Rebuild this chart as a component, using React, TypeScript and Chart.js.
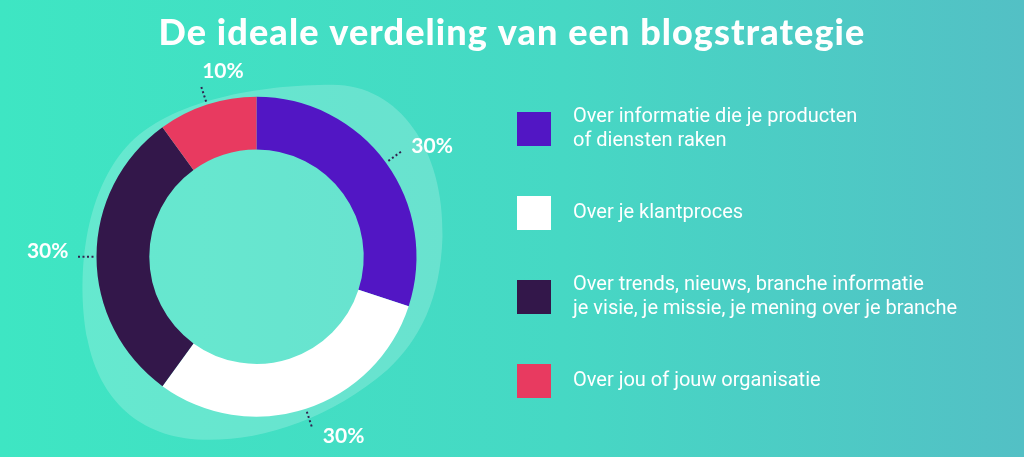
import { useEffect, useRef } from "react";
import { Chart, registerables } from "chart.js";

Chart.register(...registerables);

const titleText = "De ideale verdeling van een blogstrategie";
const categories: string[][] = [
  ["Over informatie die je producten", "of diensten raken"],
  ["Over je klantproces"],
  ["Over trends, nieuws, branche informatie", "je visie, je missie, je mening over je branche"],
  ["Over jou of jouw organisatie"],
];
const values = [30, 30, 30, 10];
const sliceColors = ["#5216C4", "#FFFFFF", "#33174A", "#E83A60"];
const valueLabels = ["30%", "30%", "30%", "10%"];

const decorPlugin = {
  id: "decor",
  beforeDatasetsDraw(chart: any) {
    const ctx = chart.ctx;
    const arc = chart.getDatasetMeta(0).data[0];
    const { x: cx, y: cy, outerRadius: R } = arc.getProps(["x", "y", "outerRadius"], true);
    const s = R / 160;
    const P = (dx: number, dy: number): [number, number] => [cx + dx * s, cy + dy * s];
    ctx.save();
    ctx.beginPath();
    const m = P(76, -172);
    ctx.moveTo(m[0], m[1]);
    const curves: number[][] = [
      [143, -172, 188, -107, 186, -20],
      [184, 43, 163, 83, 131, 113],
      [73, 163, 3, 185, -54, 183],
      [-117, 181, -157, 143, -169, 83],
      [-179, 33, -177, -57, -130, -110],
      [-87, -157, 3, -172, 76, -172],
    ];
    for (const c of curves) {
      const a = P(c[0], c[1]);
      const b = P(c[2], c[3]);
      const e = P(c[4], c[5]);
      ctx.bezierCurveTo(a[0], a[1], b[0], b[1], e[0], e[1]);
    }
    ctx.closePath();
    ctx.fillStyle = "rgba(255,255,255,0.2)";
    ctx.fill();
    ctx.restore();
  },
  afterDatasetsDraw(chart: any) {
    const ctx = chart.ctx;
    const meta = chart.getDatasetMeta(0);
    ctx.save();
    // leader lines and value labels
    meta.data.forEach((el: any, i: number) => {
      const p = el.getProps(["x", "y", "startAngle", "endAngle", "outerRadius"], true);
      const a = (p.startAngle + p.endAngle) / 2;
      const c = Math.cos(a);
      const sn = Math.sin(a);
      const r1 = p.outerRadius + 3;
      const r2 = p.outerRadius + 19;
      const sx = p.x + r1 * c, sy = p.y + r1 * sn;
      const ex = p.x + r2 * c, ey = p.y + r2 * sn;
      ctx.beginPath();
      ctx.setLineDash([2, 2.5]);
      ctx.lineWidth = 2;
      ctx.strokeStyle = "#33224F";
      ctx.moveTo(sx, sy);
      ctx.lineTo(ex, ey);
      ctx.stroke();
      ctx.setLineDash([]);
      ctx.fillStyle = "#FFFFFF";
      ctx.font = "bold 21px Lato";
      let tx = ex, ty = ey;
      if (Math.abs(c) > 0.5) {
        ctx.textBaseline = "alphabetic";
        if (c > 0) {
          ctx.textAlign = "left";
          tx = ex + 10;
          ty = ey + 2;
        } else {
          ctx.textAlign = "right";
          tx = ex - 9;
          ty = ey + 1;
        }
      } else {
        ctx.textAlign = "left";
        if (sn > 0) {
          ctx.textBaseline = "top";
          tx = ex + 11;
          ty = ey - 1;
        } else {
          ctx.textBaseline = "alphabetic";
          tx = ex + 1;
          ty = ey - 8;
        }
      }
      ctx.fillText(valueLabels[i], tx, ty);
    });

    // legend
    const lx = 517, ly = 112, box = 34, step = 84, lineH = 24;
    categories.forEach((lines, i) => {
      const top = ly + i * step;
      ctx.fillStyle = sliceColors[i];
      ctx.fillRect(lx, top, box, box);
      ctx.fillStyle = "#FFFFFF";
      ctx.font = "20px Roboto";
      ctx.textAlign = "left";
      ctx.textBaseline = "middle";
      const mid = top + box / 2;
      const start = mid - ((lines.length - 1) * lineH) / 2;
      lines.forEach((ln, j) => ctx.fillText(ln, 573, start + j * lineH));
    });

    // title
    ctx.fillStyle = "#FFFFFF";
    ctx.font = "900 36px Lato";
    (ctx as any).letterSpacing = "1.1px";
    ctx.textAlign = "center";
    ctx.textBaseline = "alphabetic";
    ctx.fillText(titleText, 512, 45);
    (ctx as any).letterSpacing = "0px";
    ctx.restore();
  },
};

export default function App() {
  const ref = useRef<HTMLCanvasElement>(null);
  useEffect(() => {
    if (!ref.current) return;
    const chart = new Chart(ref.current, {
      type: "doughnut",
      data: {
        labels: categories.map((l) => l.join(" ")),
        datasets: [
          {
            data: values,
            backgroundColor: sliceColors,
            borderWidth: 0,
            hoverOffset: 0,
          },
        ],
      },
      options: {
        animation: false,
        responsive: true,
        maintainAspectRatio: false,
        cutout: "67%",
        layout: { padding: { left: 96.5, right: 607.5, top: 96.7, bottom: 40.3 } },
        plugins: {
          legend: { display: false },
          tooltip: { enabled: false },
          title: { display: false },
        },
      },
      plugins: [decorPlugin],
    });
    return () => chart.destroy();
  }, []);
  return (
    <div
      style={{
        position: "absolute",
        left: 0,
        top: 0,
        width: 1024,
        height: 457,
        background: "linear-gradient(90deg, #3EE6C3 0%, #46D8C4 55%, #53C0C5 100%)",
      }}
    >
      <canvas ref={ref} />
    </div>
  );
}
